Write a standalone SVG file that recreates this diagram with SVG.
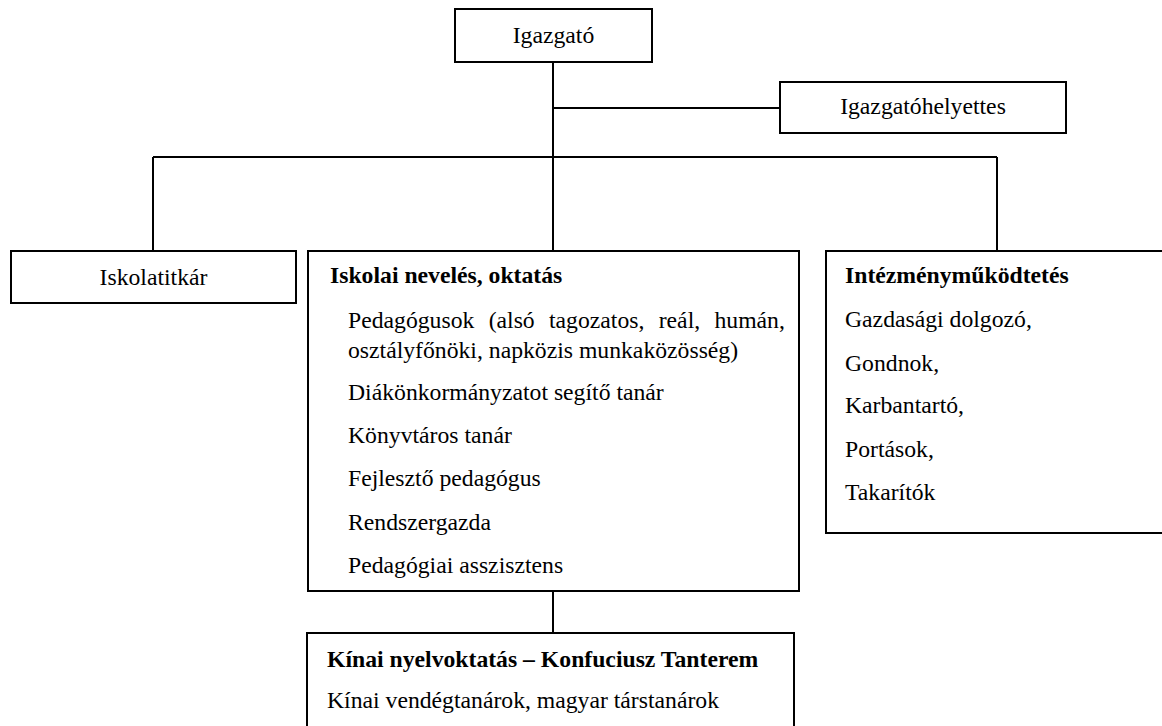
<svg xmlns="http://www.w3.org/2000/svg" width="1162" height="726" viewBox="0 0 1162 726">
<style>
.box{fill:#fff;stroke:#000;stroke-width:2}
.ln{fill:none;stroke:#000;stroke-width:2}
.c{text-anchor:middle}
.b{font-weight:bold}
</style>
<rect width="1162" height="726" fill="#fff"/>
<g id="connectors">
<line class="ln" x1="553" y1="62" x2="553" y2="251"/>
<line class="ln" x1="553" y1="108" x2="780" y2="108"/>
<line class="ln" x1="153" y1="157" x2="997" y2="157"/>
<line class="ln" x1="153" y1="157" x2="153" y2="251"/>
<line class="ln" x1="997" y1="157" x2="997" y2="251"/>
<line class="ln" x1="553" y1="591" x2="553" y2="633"/>
</g>
<g font-family="'Liberation Serif', Tinos, 'Times New Roman', 'DejaVu Serif', serif" font-size="23.7" fill="#000">
<g id="igazgato">
<rect class="box" x="455" y="9" width="197" height="53"/>
<text class="c" x="553.5" y="43">Igazgató</text>
</g>
<g id="helyettes">
<rect class="box" x="780" y="82" width="286" height="51"/>
<text class="c" x="923" y="114">Igazgatóhelyettes</text>
</g>
<g id="titkar">
<rect class="box" x="11" y="251" width="285" height="52"/>
<text class="c" x="153.5" y="285">Iskolatitkár</text>
</g>
<g id="neveles">
<rect class="box" x="308" y="251" width="491" height="340"/>
<text class="b" x="330" y="283">Iskolai nevelés, oktatás</text>
<text x="348" y="328" word-spacing="8.4">Pedagógusok (alsó tagozatos, reál, humán,</text>
<text x="348" y="358">osztályfőnöki, napközis munkaközösség)</text>
<text x="348" y="400">Diákönkormányzatot segítő tanár</text>
<text x="348" y="443">Könyvtáros tanár</text>
<text x="348" y="486">Fejlesztő pedagógus</text>
<text x="348" y="530">Rendszergazda</text>
<text x="348" y="573">Pedagógiai asszisztens</text>
</g>
<g id="mukodtetes">
<rect class="box" x="826" y="251" width="350" height="282"/>
<text class="b" x="845" y="283">Intézményműködtetés</text>
<text x="845" y="327">Gazdasági dolgozó,</text>
<text x="845" y="371">Gondnok,</text>
<text x="845" y="413">Karbantartó,</text>
<text x="845" y="457">Portások,</text>
<text x="845" y="500">Takarítók</text>
</g>
<g id="kinai">
<rect class="box" x="307" y="633" width="487" height="110"/>
<text class="b" x="327" y="667">Kínai nyelvoktatás – Konfuciusz Tanterem</text>
<text x="327" y="708">Kínai vendégtanárok, magyar társtanárok</text>
</g>
</g>
</svg>
